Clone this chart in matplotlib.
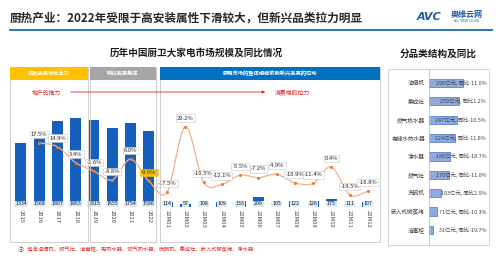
import numpy as np
import matplotlib
matplotlib.use("Agg")
import matplotlib.pyplot as plt
from matplotlib.patches import Rectangle, FancyArrowPatch, PathPatch
from matplotlib.path import Path

plt.rcParams['font.family'] = ['Noto Sans CJK SC', 'DejaVu Sans']

# ---- data ----
periods = ["2015", "2016", "2017", "2018", "2019", "2020", "2021", "2022",
           "22M01", "22M02", "22M03", "22M04", "22M05", "22M06",
           "22M07", "22M08", "22M09", "22M10", "22M11", "22M12"]
scale = [1334, 1568, 1807, 1863, 1815, 1655, 1754, 1586,
         114, 57, 108, 109, 133, 209, 105, 122, 126, 175, 111, 107]
growth = [None, 17.5, 14.9, 3.4, -2.6, -8.8, 6.0, -9.6,
          -17.5, 29.2, -10.5, -12.1, -5.5, -7.2, -4.9, -10.9, -11.4, 0.4, -19.5, -16.8]

cats = ["油烟机", "集成灶", "燃气热水器", "电储水热水器", "净水器",
        "燃气灶", "洗碗机", "嵌入式微蒸烤", "消毒柜"]
cat_size = [296, 259, 247, 224, 180, 170, 103, 71, 31]
cat_yoy = ["-11.0%", "1.2%", "-10.5%", "-11.8%", "-18.7%", "-11.0%", "2.9%", "-10.3%", "-19.7%"]

BLUE = '#1560BD'
ORANGE = '#ED7D31'
RED = '#E8211E'


def fx(x):
    return x / 500


def fy(y):
    return 1 - y / 260


def box(x0, y0, x1, y1, **kw):
    r = Rectangle((fx(x0), fy(y1)), fx(x1) - fx(x0), fy(y0) - fy(y1),
                  transform=fig.transFigure, **kw)
    fig.add_artist(r)


fig = plt.figure(figsize=(5, 2.6), dpi=100)

# title + logo
fig.text(fx(10), fy(18), "厨热产业：2022年受限于高安装属性下滑较大，但新兴品类拉力明显",
         fontsize=8.4, fontweight='bold', color='#262626', va='center')
fig.text(fx(417), fy(17), "AVC", fontsize=8, fontweight='bold', style='italic',
         color='#1F5AA6', va='center', family='DejaVu Sans')
fig.text(fx(451), fy(15), "奥维云网", fontsize=5.8, fontweight='bold', color='#1F5AA6', va='center')
fig.text(fx(467), fy(21.5), "ALL VIEW CLOUD", fontsize=2.2, color='#1F5AA6', va='center', ha='center',
         family='DejaVu Sans')
fig.add_artist(plt.Line2D([fx(10), fx(492)], [fy(30), fy(30)], transform=fig.transFigure,
                          color='#2E75B6', lw=1.4))

fig.text(fx(196), fy(53), "历年中国厨卫大家电市场规模及同比情况", fontsize=6.9,
         fontweight='bold', color='#1a1a1a', ha='center', va='center')
fig.text(fx(438), fy(54), "分品类结构及同比", fontsize=6.9,
         fontweight='bold', color='#1a1a1a', ha='center', va='center')

# section frames + headers
sections = [(10, 88, '#FFC000', "成熟品类增长乏力"),
            (90, 156, '#A6A6A6', "新兴品类集成"),
            (160, 380, '#0070C0', "厨电市场的整体规模依赖新兴品类的拉动")]
for x0, x1, c, t in sections:
    box(x0, 67, x1, 242, fill=False, edgecolor='#C8C8C8', lw=0.6)
    box(x0, 67, x1, 80, facecolor=c, edgecolor='none')
    fig.text(fx((x0 + x1) / 2), fy(73.5), t, fontsize=3.8, color='white',
             ha='center', va='center', fontweight='bold')

# push / pull arrow
fig.text(fx(32), fy(92), "地产的推力", fontsize=4.2, color=RED, va='center')
fig.add_artist(FancyArrowPatch((fx(68), fy(92)), (fx(268), fy(92)), transform=fig.transFigure,
                               arrowstyle='-|>', mutation_scale=4, color=RED, lw=0.6))
fig.text(fx(275), fy(93), "消费端的拉力", fontsize=4.2, color=RED, va='center')

fig.text(fx(18), fy(249), "注：包含油烟机、燃气灶、消毒柜、电热水器、燃气热水器、洗碗机、集成灶、嵌入式微蒸烤、净水器",
         fontsize=3.75, color=RED, va='center')

# ---- main bar + line chart ----
ax = fig.add_axes([fx(10), fy(207), fx(380) - fx(10), (207 - 67) / 260])
x = np.arange(len(periods))
ax.bar(x, scale, width=0.6, color=BLUE, zorder=2)
ax.set_xlim(-0.6, 19.66)
ax.set_ylim(0, 2930)
for xi, v in zip(x, scale):
    ax.annotate(str(v), (xi, 0), xytext=(0, 2.3), textcoords='offset points',
                ha='center', va='center', fontsize=3.8, color='#1a1a1a', zorder=4,
                bbox=dict(boxstyle='square,pad=0.15', fc='#DDEBF7', ec='none'))
ax.set_xticks(x)
ax.set_xticklabels(periods, rotation=270, fontsize=4.2, color='#404040')
ax.tick_params(axis='x', length=0, pad=2.5)
ax.set_yticks([])
for s in ax.spines.values():
    s.set_visible(False)
ax.patch.set_alpha(0)

ax2 = ax.twinx()
ax2.set_ylim(-28.2, 71.8)
ax2.set_yticks([])
for s in ax2.spines.values():
    s.set_visible(False)

gx = np.array([xi for xi, g in zip(x, growth) if g is not None], dtype=float)
gy = np.array([g for g in growth if g is not None], dtype=float)
pts = np.column_stack([gx, gy])
verts = [pts[0]]
codes = [Path.MOVETO]
for i in range(len(pts) - 1):
    p0 = pts[max(i - 1, 0)]
    p1 = pts[i]
    p2 = pts[i + 1]
    p3 = pts[min(i + 2, len(pts) - 1)]
    verts += [p1 + (p2 - p0) / 6, p2 - (p3 - p1) / 6, p2]
    codes += [Path.CURVE4] * 3
ax2.add_patch(PathPatch(Path(verts, codes), fill=False, edgecolor='#F4B183', lw=0.9, zorder=3))
ax2.scatter(gx, gy, s=5, color=ORANGE, zorder=4, linewidths=0)
for xi, g in zip(gx, gy):
    hl = g == -9.6
    ax2.annotate(f"{g:.1f}%", (xi, g), xytext=(0, 6.2), textcoords='offset points',
                 ha='center', va='center', fontsize=4.2, color='#262626', zorder=5,
                 bbox=dict(boxstyle='square,pad=0.2', fc='#FFC000' if hl else 'white',
                           ec='#FFC000' if hl else '#C8C8C8', lw=0.4))

# ---- category panel ----
box(388, 69, 489, 245, fill=False, edgecolor='#D0D0D0', lw=0.6)
rx = fig.add_axes([fx(429), fy(245), fx(488) - fx(429), (245 - 69) / 260])
yi = np.arange(len(cats))
rx.barh(yi, cat_size, height=0.45, color='#8FAADC', edgecolor='#4472C4', lw=0.5)
rx.set_xlim(0, 513)
rx.set_ylim(8.82, -0.76)
rx.set_yticks(yi)
rx.set_yticklabels(cats, fontsize=4.1, color='#404040')
rx.tick_params(axis='y', length=0, pad=3)
rx.set_xticks([])
for k in ['top', 'right', 'bottom']:
    rx.spines[k].set_visible(False)
rx.spines['left'].set_color('#BFBFBF')
rx.spines['left'].set_linewidth(0.6)
rx.patch.set_alpha(0)
for i, (v, g) in enumerate(zip(cat_size, cat_yoy)):
    rx.text(0.97, i, f"{v}亿元, 同比{g}", transform=rx.get_yaxis_transform(),
            ha='right', va='center', fontsize=3.9, color='#404040')

fig.savefig("out.png", dpi=100)
